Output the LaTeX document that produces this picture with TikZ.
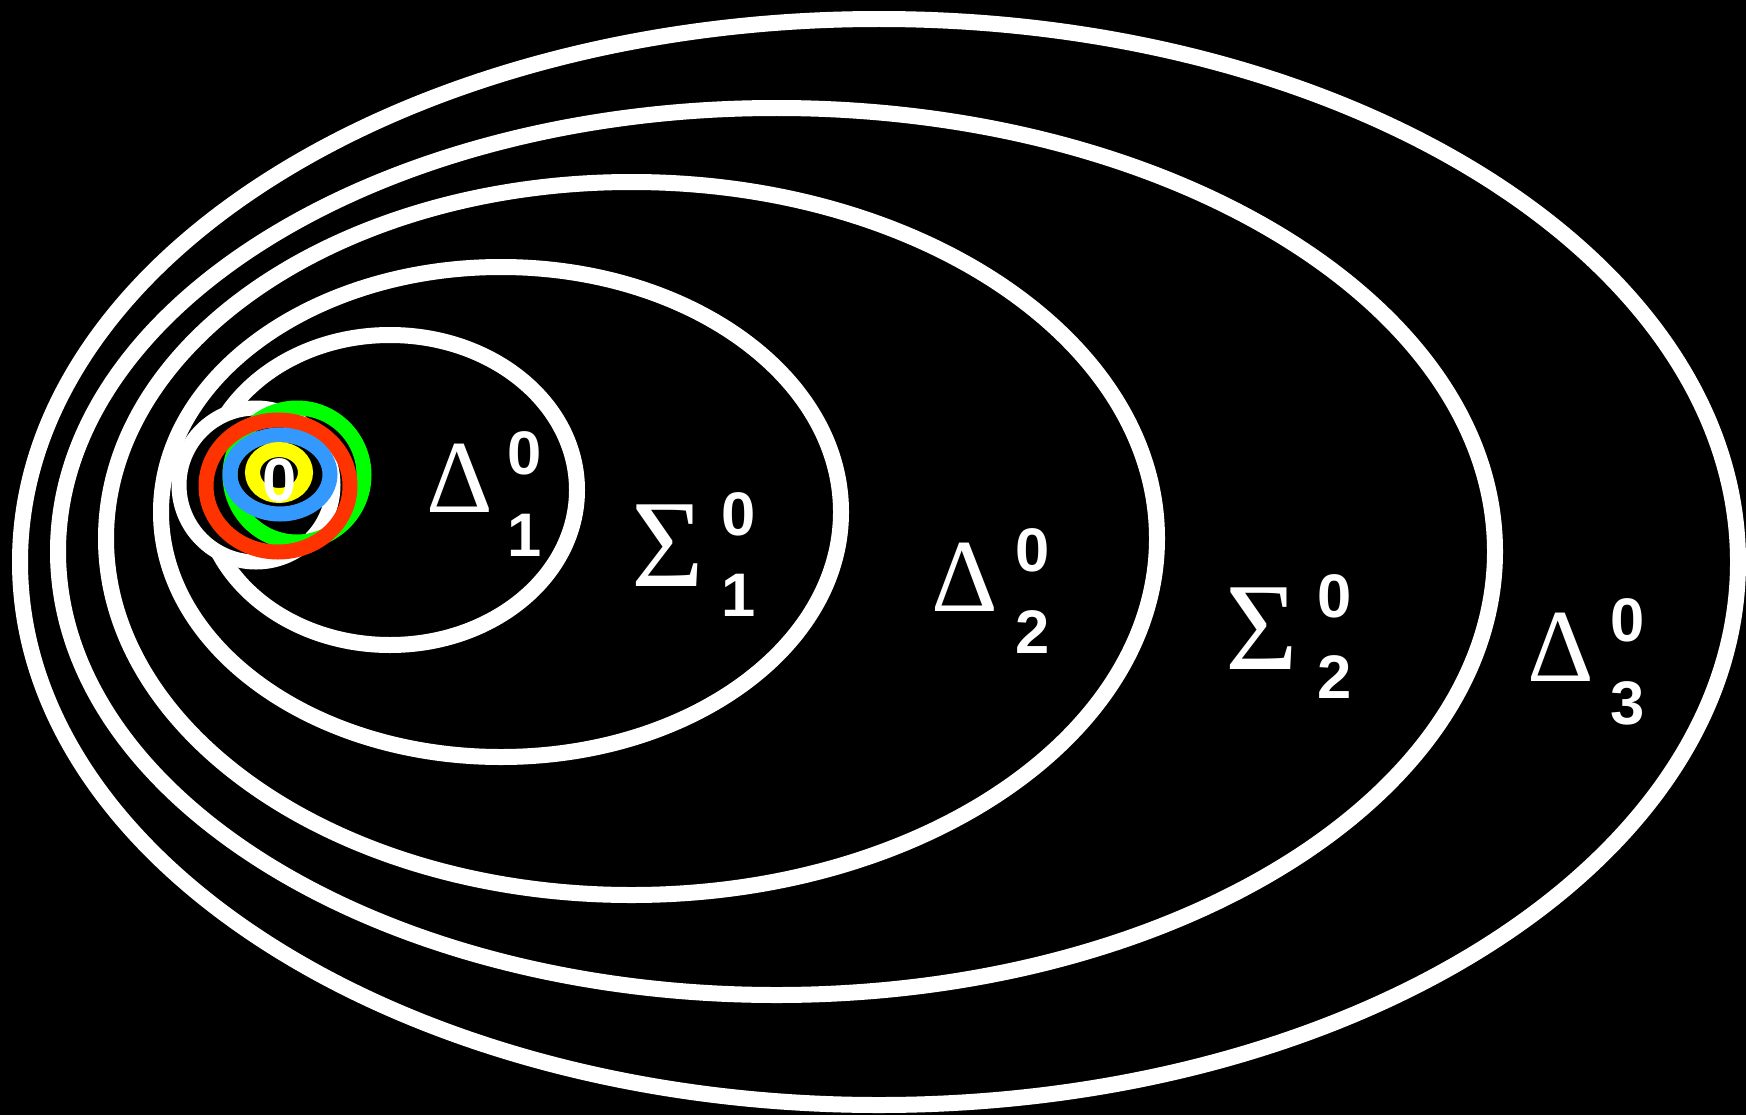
\documentclass[tikz,border=0pt]{standalone}
\usepackage{fontspec}
\newfontfamily\greekfont{Liberation Serif}
\newfontfamily\digitfont{Liberation Sans}
\usetikzlibrary{positioning}
\definecolor{ringgreen}{RGB}{0,255,0}
\definecolor{ringred}{RGB}{255,51,0}
\definecolor{ringblue}{RGB}{51,153,255}
\definecolor{ringyellow}{RGB}{255,255,0}

\begin{document}
\begin{tikzpicture}[x=0.02cm, y=-0.02cm,
      lvl/.style={draw=white, line width=0.32cm},
      ring/.style={line width=0.3cm},
      grk/.style={text=white, inner sep=0pt, font=\greekfont\fontsize{59}{59}\selectfont},
      sig/.style={grk, font=\greekfont\fontsize{71}{71}\selectfont},
      idx/.style={text=white, inner sep=0pt, font=\digitfont\bfseries\fontsize{35}{35}\selectfont}]
    \fill[black] (0,0) rectangle (1746,1115);
    \useasboundingbox (0,0) rectangle (1746,1115);
    % levels of the hierarchy, outermost first
    \draw[lvl] (879,562) ellipse [x radius=859, y radius=543];
    \draw[lvl] (776.5,551.5) ellipse [x radius=718.5, y radius=443.5];
    \draw[lvl] (631.5,538.5) ellipse [x radius=525.5, y radius=356.5];
    \draw[lvl] (501,512) ellipse [x radius=340, y radius=245];
    \draw[lvl] (390,490) ellipse [x radius=187, y radius=155];
    % the small coloured rings at the bottom
    \draw[lvl, fill=black, line width=0.3cm] (256,485) circle [radius=77];
    \draw[ring, ringgreen] (297,475) circle [radius=67];
    \draw[ring, ringred] (278,486) ellipse [x radius=72, y radius=66];
    \draw[ring, ringblue] (280,474.5) ellipse [x radius=50, y radius=39.5];
    \draw[ring, ringyellow] (279,472.5) ellipse [x radius=26.5, y radius=23];
    \node[idx] (zero) at (279.5,480) {0};
    % labels
    \node[grk] (d1) at (460,478) {Δ};
    \node[idx] (d1up) at (525,453) {0};
    \node[idx] (d1dn) at (525,535) {1};
    \node[sig] (s1) at (667.5,545.5) {Σ};
    \node[idx] (s1up) at (738.5,514.5) {0};
    \node[idx] (s1dn) at (738.5,595) {1};
    \node[grk] (d2) at (965,577.5) {Δ};
    \node[idx] (d2up) at (1032.5,550.5) {0};
    \node[idx] (d2dn) at (1032.5,632.5) {2};
    \node[sig] (s2) at (1262,628.5) {Σ};
    \node[idx] (s2up) at (1334.5,596) {0};
    \node[idx] (s2dn) at (1334.5,677.5) {2};
    \node[grk] (d3) at (1560.5,647.5) {Δ};
    \node[idx] (d3up) at (1627.5,620) {0};
    \node[idx] (d3dn) at (1627.5,703.5) {3};
  \end{tikzpicture}
\end{document}
